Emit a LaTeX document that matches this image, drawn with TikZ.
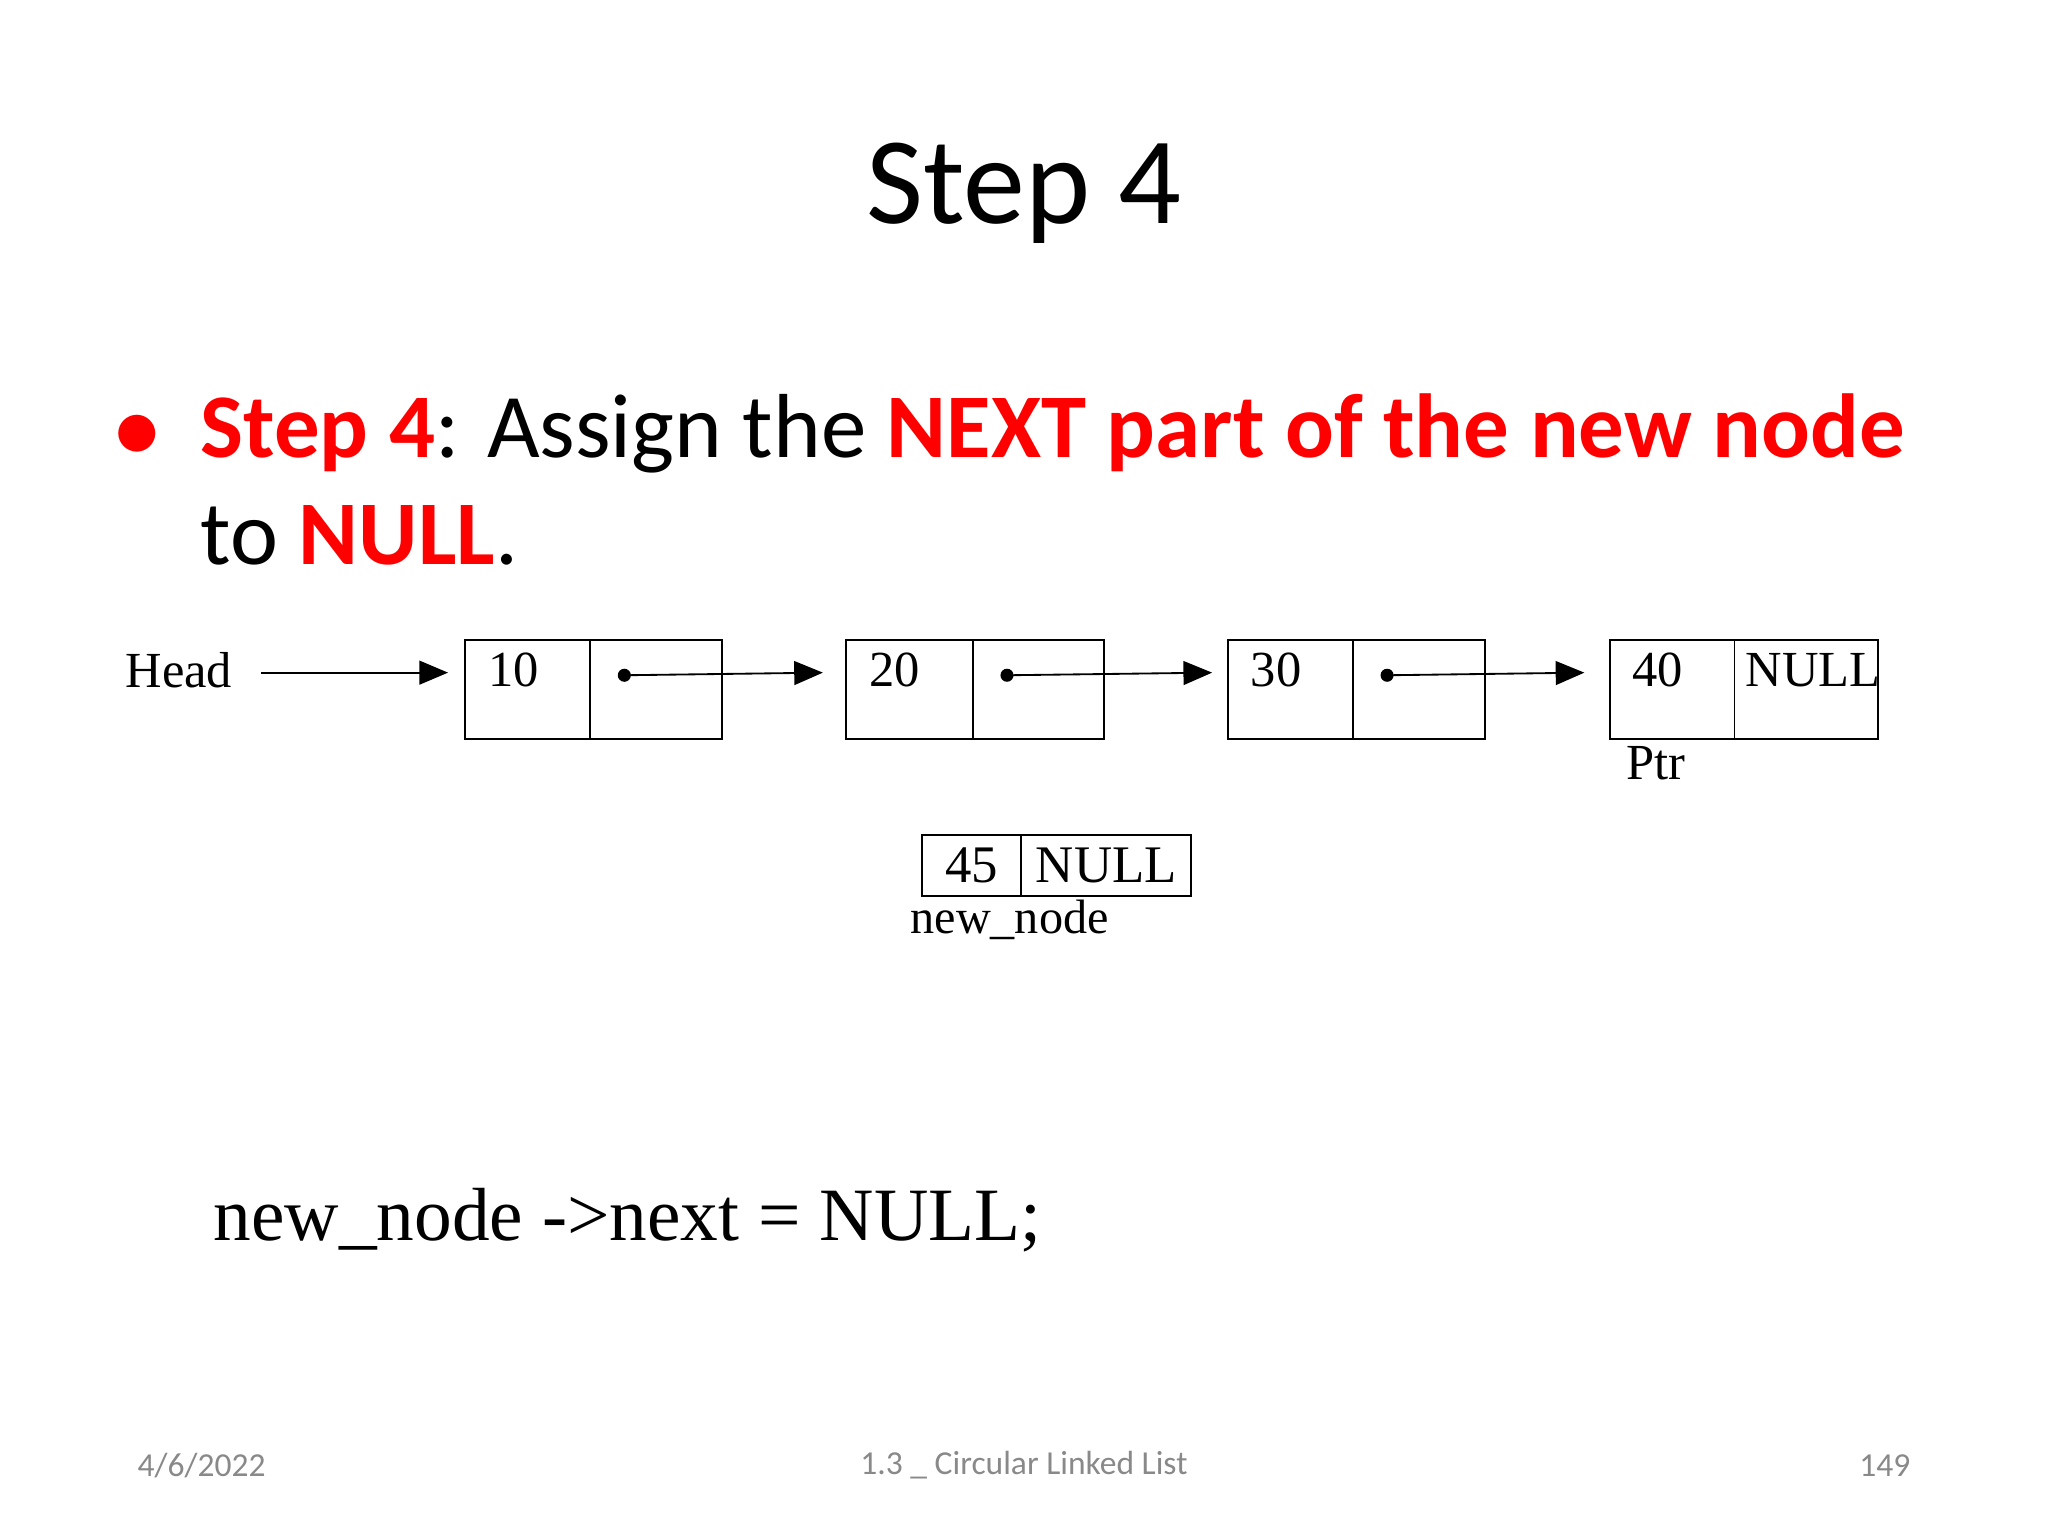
\documentclass[tikz,border=0pt]{standalone}
\usepackage{fontspec}
\setmainfont{Liberation Serif}
\newfontfamily\slidefont{Carlito}
\usetikzlibrary{arrows}
\definecolor{slidered}{RGB}{255,0,0}
\definecolor{footgray}{RGB}{137,137,137}
\tikzstyle{cell} = [rectangle, draw, thin, minimum height=0.76cm, inner sep=0pt]
\tikzstyle{small} = [rectangle, draw, thin, minimum height=0.47cm, inner sep=0pt, font=\fontsize{11.5}{13}\selectfont]
\tikzstyle{label} = [font=\fontsize{11}{13}\selectfont]
\tikzstyle{line} = [draw, thin, -triangle 45]
\tikzstyle{foot} = [text=footgray, font=\slidefont\fontsize{7.3}{9}\selectfont]

\begin{document}
\begin{tikzpicture}[x=0.01cm, y=-0.01cm]
\useasboundingbox (0,0) rectangle (1568,1176);

% title and bullet
\node [font=\slidefont\fontsize{27}{32}\selectfont] (title) at (784,148) {Step 4};
\node [anchor=base, text=slidered, font=\slidefont\fontsize{20}{24}\selectfont] (dot) at (105,350) {$\bullet$};
\node [anchor=base west, inner sep=0pt, font=\slidefont\fontsize{19.8}{24}\selectfont] (line1) at (153,350)
  {\textcolor{slidered}{\bfseries Step 4}: Assign the \textcolor{slidered}{\bfseries NEXT part of the new node}};
\node [anchor=base west, inner sep=0pt, font=\slidefont\fontsize{19.8}{24}\selectfont] (line2) at (153,432)
  {to \textcolor{slidered}{\bfseries NULL}.};

% list
\node [label] (head) at (137,513) {Head};
\node [cell, minimum width=0.96cm] (d1) at (404,528) {};
\node [cell, minimum width=1.01cm] (p1) at (502.5,528) {};
\node [cell, minimum width=0.97cm] (d2) at (696.5,528) {};
\node [cell, minimum width=1.00cm] (p2) at (795,528) {};
\node [cell, minimum width=0.96cm] (d3) at (988,528) {};
\node [cell, minimum width=1.01cm] (p3) at (1086.5,528) {};
\node [cell, minimum width=0.95cm] (d4) at (1280.5,528) {};
\node [cell, minimum width=1.10cm] (p4) at (1383,528) {};
\node [label] at (393,513) {10};
\node [label] at (685,513) {20};
\node [label] at (977,513) {30};
\node [label] at (1269,513) {40};
\node [label] at (1388,513) {NULL};
\node [label] (ptr) at (1268,584) {Ptr};

\coordinate (h1) at (200,515);
\coordinate (a1) at (343,515);
\fill (478,517) circle (5) coordinate (s1);
\fill (771,517) circle (5) coordinate (s2);
\fill (1062,517) circle (5) coordinate (s3);
\path [line] (h1) to (a1);
\path [line] (s1) to (630,515);
\path [line] (s2) to (928,515);
\path [line] (s3) to (1213,515);

% new node
\node [small, minimum width=0.76cm] (nd) at (744,662.5) {45};
\node [small, minimum width=1.30cm] (np) at (847,662.5) {NULL};
\node [font=\fontsize{10.5}{12}\selectfont] (newlabel) at (773,704) {new\_node};

% code
\node [anchor=base west, inner sep=0pt, font=\fontsize{16.4}{20}\selectfont] (code) at (163,950) {new\_node ->next = NULL;};

% footer
\node [foot, anchor=west] (date) at (93,1122) {4/6/2022};
\node [foot] (topic) at (784,1122) {1.3 \_ Circular Linked List};
\node [foot, anchor=east] (page) at (1475,1122) {149};
\end{tikzpicture}
\end{document}
